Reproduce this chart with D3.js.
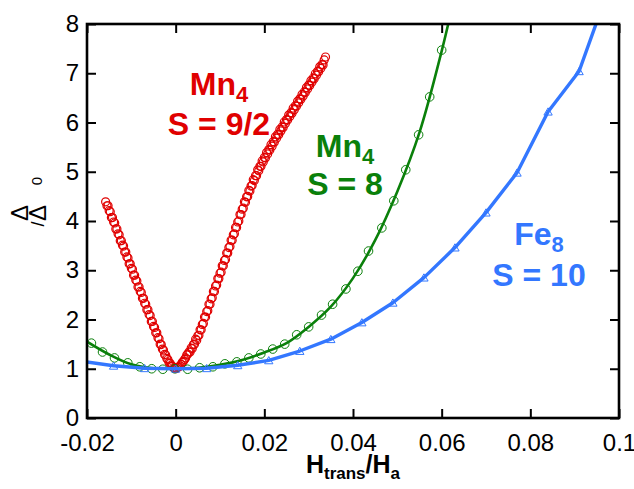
<!DOCTYPE html>
<html>
<head>
<meta charset="utf-8">
<script src="https://cdnjs.cloudflare.com/ajax/libs/d3/7.8.5/d3.min.js"></script>
<style>
body { margin: 0; background: #fff; }
svg { display: block; font-family: "Liberation Sans", Arial, sans-serif; }
</style>
</head>
<body>
<div id="chart"></div>
<script>
// axis ticks
var xTicks = [-0.02, 0, 0.02, 0.04, 0.06, 0.08, 0.1]
var xTickLabels = ['-0.02', '0', '0.02', '0.04', '0.06', '0.08', '0.1']
var yTicks = [0, 1, 2, 3, 4, 5, 6, 7, 8]

// Mn4 S = 9/2 (red open circles), first sweep
var redH = [-0.0158, -0.0155, -0.0150, -0.0145, -0.0140, -0.0135, -0.0130, -0.0125, -0.0120, -0.0115,
      -0.0110, -0.0105, -0.0100, -0.0095, -0.0090, -0.0085, -0.0080, -0.0075, -0.0070, -0.0065,
      -0.0060, -0.0055, -0.0050, -0.0045, -0.0040, -0.0035, -0.0030, -0.0025, -0.0020, -0.0015,
      -0.0010, -0.0005, 0,
      0.0005, 0.0010, 0.0015, 0.0020, 0.0025, 0.0030, 0.0035, 0.0040, 0.0045, 0.0050,
      0.0055, 0.0060, 0.0065, 0.0070, 0.0075, 0.0080, 0.0085, 0.0090, 0.0095, 0.0100,
      0.0105, 0.0110, 0.0115, 0.0120, 0.0125, 0.0130, 0.0135, 0.0140, 0.0145, 0.0150,
      0.0155, 0.0160, 0.0165, 0.0170, 0.0175, 0.0180, 0.0185, 0.0190, 0.0195, 0.0200,
      0.0205, 0.0210, 0.0215, 0.0220, 0.0225, 0.0230, 0.0235, 0.0240, 0.0245, 0.0250,
      0.0255, 0.0260, 0.0265, 0.0270, 0.0275, 0.0280, 0.0285, 0.0290, 0.0295, 0.0300,
      0.0305, 0.0310, 0.0315, 0.0320, 0.0325, 0.0330, 0.0335, 0.0338]
var redY = [4.39, 4.31, 4.21, 4.07, 3.98, 3.84, 3.74, 3.60, 3.51, 3.37,
      3.27, 3.13, 3.04, 2.90, 2.80, 2.66, 2.57, 2.43, 2.33, 2.20,
      2.10, 1.96, 1.86, 1.73, 1.63, 1.50, 1.40, 1.29, 1.21, 1.12,
      1.06, 1.02, 1.00,
      1.03, 1.06, 1.13, 1.19, 1.28, 1.34, 1.42, 1.49, 1.60, 1.67,
      1.79, 1.90, 2.05, 2.16, 2.31, 2.42, 2.57, 2.68, 2.83, 2.94,
      3.09, 3.20, 3.35, 3.46, 3.61, 3.72, 3.87, 3.98, 4.13, 4.24,
      4.39, 4.49, 4.62, 4.71, 4.84, 4.92, 5.04, 5.11, 5.22, 5.29,
      5.39, 5.45, 5.55, 5.61, 5.71, 5.76, 5.86, 5.91, 6.01, 6.06,
      6.15, 6.20, 6.29, 6.34, 6.43, 6.48, 6.57, 6.62, 6.71, 6.76,
      6.85, 6.90, 6.99, 7.04, 7.13, 7.18, 7.27, 7.33]

// Mn4 S = 9/2, second sweep
var red2H = [-0.01525, -0.01475, -0.01425, -0.01375, -0.01325, -0.01275, -0.01225, -0.01175, -0.01125, -0.01075,
      -0.01025, -0.00975, -0.00925, -0.00875, -0.00825, -0.00775, -0.00725, -0.00675, -0.00625, -0.00575,
      -0.00525, -0.00475, -0.00425, -0.00375, -0.00325, -0.00275, -0.00225, -0.00175, -0.00125, -0.00075,
      -0.00025,
      0.00025, 0.00075, 0.00125, 0.00175, 0.00225, 0.00275, 0.00325, 0.00375, 0.00425, 0.00475,
      0.00525, 0.00575, 0.00625, 0.00675, 0.00725, 0.00775, 0.00825, 0.00875, 0.00925, 0.00975,
      0.01025, 0.01075, 0.01125, 0.01175, 0.01225, 0.01275, 0.01325, 0.01375, 0.01425, 0.01475,
      0.01525, 0.01575, 0.01625, 0.01675, 0.01725, 0.01775, 0.01825, 0.01875, 0.01925, 0.01975,
      0.02025, 0.02075, 0.02125, 0.02175, 0.02225, 0.02275, 0.02325, 0.02375, 0.02425, 0.02475,
      0.02525, 0.02575, 0.02625, 0.02675, 0.02725, 0.02775, 0.02825, 0.02875, 0.02925, 0.02975,
      0.03025, 0.03075, 0.03125, 0.03175, 0.03225, 0.03275, 0.03325]
var red2Y = [4.31, 4.19, 4.07, 3.96, 3.84, 3.72, 3.60, 3.49, 3.37, 3.25,
      3.13, 3.02, 2.90, 2.78, 2.66, 2.55, 2.43, 2.31, 2.20, 2.08,
      1.96, 1.84, 1.73, 1.61, 1.49, 1.38, 1.28, 1.19, 1.11, 1.05,
      1.01,
      1.01, 1.04, 1.09, 1.15, 1.22, 1.30, 1.34, 1.41, 1.50, 1.58,
      1.68, 1.79, 1.92, 2.05, 2.18, 2.31, 2.44, 2.57, 2.70, 2.83,
      2.96, 3.09, 3.22, 3.35, 3.48, 3.61, 3.74, 3.87, 4.00, 4.13,
      4.26, 4.38, 4.50, 4.61, 4.72, 4.82, 4.92, 5.02, 5.11, 5.20,
      5.28, 5.36, 5.44, 5.52, 5.60, 5.68, 5.75, 5.83, 5.90, 5.98,
      6.05, 6.12, 6.19, 6.26, 6.33, 6.40, 6.47, 6.54, 6.61, 6.68,
      6.75, 6.82, 6.89, 6.96, 7.03, 7.10, 7.17]

// Mn4 S = 8 (green circles + fitted curve)
var greenH = [-0.0190, -0.0165, -0.0138, -0.0108, -0.0081, -0.0054, -0.0029, -0.0002, 0.0027, 0.0054,
      0.0084, 0.0111, 0.0138, 0.0165, 0.0192, 0.0219, 0.0246, 0.0273, 0.0300, 0.0329,
      0.0354, 0.0384, 0.0411, 0.0435, 0.0465, 0.0492, 0.0519, 0.0548, 0.0573, 0.0600]
var greenY = [1.52, 1.34, 1.22, 1.12, 1.04, 1.00, 0.99, 1.00, 0.99, 1.02,
      1.04, 1.10, 1.14, 1.22, 1.30, 1.40, 1.50, 1.69, 1.85, 2.09,
      2.31, 2.62, 2.98, 3.39, 3.86, 4.41, 5.04, 5.75, 6.52, 7.47]
var greenFitH = [-0.02, -0.015, -0.01, -0.005, 0, 0.005, 0.01, 0.015, 0.02, 0.025, 0.03,
      0.035, 0.04, 0.045, 0.05, 0.055, 0.06, 0.0625]
var greenFitY = [1.55, 1.29, 1.09, 1.01, 1.00, 1.02, 1.08, 1.18, 1.33, 1.52, 1.85,
      2.26, 2.84, 3.61, 4.60, 5.80, 7.45, 8.40]

// Fe8 S = 10 (blue triangles + line)
var blueH = [-0.021, -0.014, -0.007, 0, 0.007, 0.014, 0.021, 0.028, 0.035, 0.042,
      0.049, 0.056, 0.063, 0.070, 0.077, 0.084, 0.091, 0.098]
var blueY = [1.15, 1.06, 1.01, 1.00, 1.01, 1.07, 1.17, 1.36, 1.60, 1.94,
      2.34, 2.85, 3.46, 4.17, 4.98, 6.22, 7.04, 8.80]

var red = '#e00000'
var green = '#0a800a'
var blue = '#3377ff'

var svgWidth = 634
var svgHeight = 489
var margin = { top: 24, right: 15, bottom: 71, left: 87 }
var width = svgWidth - margin.left - margin.right
var height = svgHeight - margin.top - margin.bottom

var svg = d3.select('#chart')
      .append('svg')
      .attr('width', svgWidth)
      .attr('height', svgHeight)

var chartGroup = svg.append('g')
      .attr('transform', `translate(${margin.left}, ${margin.top})`)

chartGroup.append('clipPath')
      .attr('id', 'plotClip')
      .append('rect')
      .attr('width', width)
      .attr('height', height)

var x = d3.scaleLinear().domain([-0.02, 0.1]).range([0, width])
var y = d3.scaleLinear().domain([0, 8]).range([height, 0])

function zip(a, b) { return a.map((v, i) => [v, b[i]]) }
var redData = zip(redH, redY).concat(zip(red2H, red2Y))
var greenData = zip(greenH, greenY)
var greenFit = zip(greenFitH, greenFitY)
var blueData = zip(blueH, blueY)

var plot = chartGroup.append('g').attr('clip-path', 'url(#plotClip)')

// red
plot.append('g').selectAll('circle')
      .data(redData)
      .enter()
      .append('circle')
      .attr('cx', d => x(d[0]))
      .attr('cy', d => y(d[1]))
      .attr('r', 4)
      .attr('fill', 'none')
      .attr('stroke', red)
      .attr('stroke-width', 1.2)

// green
plot.append('path')
      .datum(greenFit)
      .attr('d', d3.line().x(d => x(d[0])).y(d => y(d[1])).curve(d3.curveCatmullRom))
      .attr('fill', 'none')
      .attr('stroke', green)
      .attr('stroke-width', 2.6)

plot.append('g').selectAll('circle')
      .data(greenData)
      .enter()
      .append('circle')
      .attr('cx', d => x(d[0]))
      .attr('cy', d => y(d[1]))
      .attr('r', 4.3)
      .attr('fill', 'none')
      .attr('stroke', green)
      .attr('stroke-width', 1)

// blue
plot.append('path')
      .datum(blueData)
      .attr('d', d3.line().x(d => x(d[0])).y(d => y(d[1])))
      .attr('fill', 'none')
      .attr('stroke', blue)
      .attr('stroke-width', 3.4)
      .attr('stroke-linejoin', 'round')

plot.append('g').selectAll('path')
      .data(blueData)
      .enter()
      .append('path')
      .attr('d', d3.symbol(d3.symbolTriangle).size(30))
      .attr('transform', d => `translate(${x(d[0])}, ${y(d[1]) + 1})`)
      .attr('fill', 'none')
      .attr('stroke', blue)
      .attr('stroke-width', 1)

// axes, ticks point inward on all four sides
function styleAxis(g) {
      g.select('.domain').remove()
      g.selectAll('.tick line').attr('stroke', '#000').attr('stroke-width', 2)
      g.selectAll('.tick text')
            .attr('fill', '#000')
            .style('font-family', '"Liberation Sans", Arial, sans-serif')
            .style('font-size', '24px')
}

chartGroup.append('g')
      .attr('transform', `translate(0, ${height})`)
      .call(d3.axisBottom(x).tickValues(xTicks).tickSize(-9).tickPadding(16)
            .tickFormat((d, i) => xTickLabels[i]))
      .call(styleAxis)

chartGroup.append('g')
      .call(d3.axisTop(x).tickValues(xTicks).tickSize(-9).tickFormat(''))
      .call(styleAxis)

chartGroup.append('g')
      .call(d3.axisLeft(y).tickValues(yTicks).tickSize(-9).tickPadding(8))
      .call(styleAxis)

chartGroup.append('g')
      .attr('transform', `translate(${width}, 0)`)
      .call(d3.axisRight(y).tickValues(yTicks).tickSize(-9).tickFormat(''))
      .call(styleAxis)

chartGroup.append('rect')
      .attr('width', width)
      .attr('height', height)
      .attr('fill', 'none')
      .attr('stroke', '#000')
      .attr('stroke-width', 2.6)

// series labels
function seriesLabel(cx, base1, base2, main, sub, line2, color) {
      var t1 = svg.append('text')
            .attr('x', cx)
            .attr('y', base1)
            .attr('text-anchor', 'middle')
            .attr('fill', color)
            .style('font-weight', 'bold')
            .style('font-size', '32px')
      t1.append('tspan').text(main)
      t1.append('tspan').attr('dy', 7).style('font-size', '22px').text(sub)
      svg.append('text')
            .attr('x', cx)
            .attr('y', base2)
            .attr('text-anchor', 'middle')
            .attr('fill', color)
            .style('font-weight', 'bold')
            .style('font-size', '32px')
            .text(line2)
}
seriesLabel(219, 95, 135, 'Mn', '4', 'S = 9/2', red)
seriesLabel(345, 157, 195, 'Mn', '4', 'S = 8', green)
seriesLabel(539, 245, 286, 'Fe', '8', 'S = 10', blue)

// x axis title
var xt = svg.append('text')
      .attr('x', margin.left + width / 2)
      .attr('y', 473)
      .attr('text-anchor', 'middle')
      .style('font-weight', 'bold')
      .style('font-size', '25px')
xt.append('tspan').text('H')
xt.append('tspan').attr('dy', 6).style('font-size', '17px').text('trans')
xt.append('tspan').attr('dy', -6).text('/H')
xt.append('tspan').attr('dy', 6).style('font-size', '17px').text('a')

// y axis title (Δ/Δ0, drawn rotated)
var yl = svg.append('g').style('font-size', '24px')
yl.append('text').attr('transform', 'translate(28, 213) rotate(-90)')
      .attr('text-anchor', 'middle').text('Δ')
yl.append('text').attr('transform', 'translate(46, 213) rotate(-90)')
      .attr('text-anchor', 'middle').text('Δ')
yl.append('text').attr('transform', 'translate(44, 224) rotate(-90)')
      .attr('text-anchor', 'middle').style('font-size', '18px').text('/')
yl.append('text').attr('transform', 'translate(42, 181) rotate(-90)')
      .attr('text-anchor', 'middle').style('font-size', '15px').text('0')
</script>
</body>
</html>
